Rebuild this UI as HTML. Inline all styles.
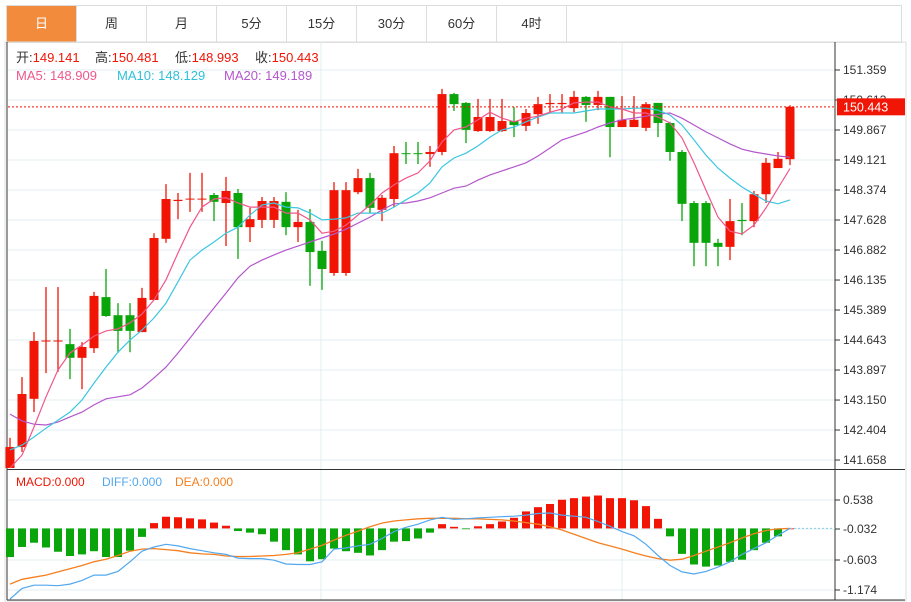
<!DOCTYPE html>
<html><head><meta charset="utf-8">
<style>
body{margin:0;background:#fff;width:911px;height:602px;overflow:hidden;font-family:"Liberation Sans","Noto Sans CJK SC",sans-serif;}
.tabs{position:absolute;left:6px;top:5px;height:36px;display:flex;border:1px solid #ddd;border-right:none}
.tab{width:70px;height:36px;line-height:36px;text-align:center;font-size:13px;color:#333;border-right:1px solid #ddd;box-sizing:border-box}
.tab.on{background:#f28b3c;color:#fff}
svg{position:absolute;left:0;top:0}
</style></head><body>
<div class="tabs">
<div class="tab on">日</div>
<div class="tab">周</div>
<div class="tab">月</div>
<div class="tab">5分</div>
<div class="tab">15分</div>
<div class="tab">30分</div>
<div class="tab">60分</div>
<div class="tab">4时</div>
<div class="tab" style="width:335px"></div>
</div>
<svg id="c" width="911" height="602"></svg>
<script>
const opens=[141.46,141.98,143.18,144.62,144.62,144.54,144.20,144.44,145.71,145.26,145.26,144.84,145.64,147.16,148.10,148.15,148.15,148.25,148.05,148.30,147.45,147.63,147.63,148.08,147.45,147.58,146.86,146.31,146.31,148.32,148.67,147.88,148.15,149.29,149.29,149.27,149.32,150.76,150.54,149.84,149.84,149.84,150.09,149.97,150.26,150.51,150.51,150.41,150.69,150.49,150.69,149.94,149.94,149.92,150.54,150.04,149.32,148.05,148.05,147.06,146.96,147.63,147.60,148.27,148.92,149.141];
const closes=[141.98,143.30,144.62,144.63,144.63,144.20,144.47,145.74,145.24,144.87,144.87,145.69,147.18,148.15,148.13,148.16,148.16,148.08,148.35,147.45,147.65,148.10,148.10,147.45,147.58,146.83,146.41,148.37,148.37,148.67,147.93,148.18,149.29,149.27,149.27,149.32,150.76,150.51,149.87,150.19,150.19,150.09,149.99,150.29,150.51,150.54,150.54,150.69,150.49,150.69,149.94,150.12,150.12,150.51,150.04,149.32,148.03,147.06,147.06,146.96,147.60,147.60,148.27,149.05,149.15,150.443];
const highs=[142.21,143.72,144.84,145.96,145.96,144.92,144.59,145.84,146.41,145.56,145.56,145.94,147.30,148.52,148.30,148.80,148.80,148.30,148.70,148.40,147.93,148.20,148.20,148.32,147.88,147.90,147.11,148.57,148.57,148.90,148.80,148.25,149.47,149.57,149.57,149.47,150.89,150.79,150.56,150.64,150.64,150.64,150.44,150.39,150.69,150.76,150.76,150.84,150.71,150.84,150.69,150.71,150.71,150.56,150.54,150.07,149.37,148.10,148.10,147.16,148.15,148.05,148.35,149.17,149.32,150.481];
const lows=[141.46,141.86,142.85,143.82,143.85,143.67,143.42,144.32,145.22,144.34,144.34,144.84,145.64,147.06,147.65,147.83,147.83,147.60,146.98,146.66,147.08,147.43,147.43,147.25,147.08,145.99,145.89,146.24,146.24,148.27,147.80,147.60,147.95,149.02,149.02,148.95,149.24,150.34,149.54,149.82,149.82,149.82,149.69,149.84,150.02,150.31,150.29,150.31,150.07,150.36,149.19,149.94,149.94,149.84,149.69,149.10,147.60,146.48,146.48,146.48,146.63,147.25,147.45,148.05,148.92,148.993];
const ma5=[141.46,141.78,142.48,143.23,143.90,144.32,144.52,144.74,144.87,144.92,145.07,145.29,145.64,146.14,146.81,147.45,147.95,148.15,148.18,148.05,147.95,147.95,147.95,147.80,147.80,147.63,147.30,147.35,147.50,147.75,148.00,148.30,148.50,148.67,148.80,149.10,149.57,149.87,149.94,150.12,150.31,150.16,150.07,150.16,150.21,150.31,150.39,150.54,150.56,150.56,150.44,150.39,150.29,150.29,150.19,150.04,149.67,149.05,148.37,147.70,147.35,147.28,147.50,147.93,148.42,148.909];
const ma10=[141.91,142.03,142.23,142.45,142.65,142.85,143.15,143.57,143.97,144.34,144.64,144.89,145.19,145.56,146.09,146.63,146.88,147.08,147.30,147.45,147.75,148.00,148.05,147.95,147.93,147.80,147.63,147.65,147.68,147.80,147.80,147.80,147.95,148.13,148.30,148.55,148.95,149.17,149.29,149.47,149.69,149.87,149.94,150.07,150.19,150.29,150.29,150.29,150.34,150.39,150.39,150.39,150.41,150.41,150.36,150.24,149.99,149.62,149.24,148.92,148.67,148.45,148.27,148.10,148.03,148.129];
const ma20=[142.80,142.63,142.55,142.53,142.60,142.73,142.85,143.03,143.18,143.23,143.28,143.45,143.70,143.97,144.32,144.69,145.07,145.44,145.81,146.19,146.48,146.63,146.76,146.88,146.98,147.08,147.18,147.28,147.40,147.55,147.70,147.88,148.03,148.05,148.10,148.18,148.30,148.42,148.47,148.62,148.75,148.85,148.95,149.05,149.22,149.42,149.62,149.72,149.82,149.94,150.04,150.12,150.16,150.21,150.26,150.29,150.16,149.99,149.82,149.67,149.52,149.39,149.32,149.27,149.22,149.189];
const macdHist=[-0.54,-0.35,-0.27,-0.36,-0.44,-0.52,-0.49,-0.43,-0.54,-0.54,-0.42,-0.16,0.10,0.22,0.21,0.19,0.17,0.11,0.05,-0.05,-0.08,-0.11,-0.25,-0.41,-0.49,-0.62,-0.58,-0.38,-0.43,-0.46,-0.51,-0.41,-0.25,-0.24,-0.19,-0.08,0.08,0.03,-0.01,0.04,0.08,0.13,0.20,0.32,0.40,0.46,0.54,0.57,0.60,0.62,0.57,0.57,0.53,0.42,0.18,-0.15,-0.48,-0.68,-0.72,-0.70,-0.63,-0.59,-0.41,-0.27,-0.15,0.00];
const diff=[-1.33,-1.13,-1.07,-1.07,-1.08,-1.05,-0.98,-0.88,-0.88,-0.81,-0.63,-0.43,-0.35,-0.30,-0.33,-0.38,-0.42,-0.46,-0.49,-0.56,-0.57,-0.57,-0.60,-0.67,-0.68,-0.68,-0.63,-0.39,-0.37,-0.33,-0.30,-0.19,-0.06,0.02,0.08,0.16,0.21,0.17,0.18,0.20,0.21,0.22,0.23,0.25,0.28,0.29,0.25,0.23,0.21,0.13,0.04,-0.06,-0.14,-0.30,-0.51,-0.70,-0.82,-0.86,-0.81,-0.73,-0.63,-0.49,-0.38,-0.27,-0.13,0.00];
const dea=[-1.05,-0.96,-0.92,-0.88,-0.82,-0.76,-0.70,-0.63,-0.58,-0.51,-0.43,-0.39,-0.38,-0.40,-0.42,-0.46,-0.48,-0.49,-0.52,-0.53,-0.53,-0.52,-0.51,-0.49,-0.46,-0.39,-0.32,-0.22,-0.13,-0.05,0.03,0.10,0.14,0.16,0.18,0.19,0.19,0.19,0.18,0.18,0.17,0.16,0.14,0.11,0.08,0.03,-0.03,-0.11,-0.19,-0.27,-0.33,-0.39,-0.46,-0.52,-0.57,-0.60,-0.58,-0.51,-0.43,-0.35,-0.27,-0.18,-0.10,-0.04,-0.01,0.00];
const priceTicks=[151.359,150.613,149.867,149.121,148.374,147.628,146.882,146.135,145.389,144.643,143.897,143.150,142.404,141.658];
const macdTicks=[0.538,-0.032,-0.603,-1.174];

const svg=document.getElementById('c');const NS='http://www.w3.org/2000/svg';
const RED='#f01505',GREEN='#0aa50a';
function X(i){return 10+12*i;}
function Y(p){return 70+(151.359-p)*30/0.7462;}
function M(v){return 528.4-v*30.3/0.571;}
function mk(tag,at,parent){const e=document.createElementNS(NS,tag);for(const k in at)e.setAttribute(k,at[k]);(parent||svg).appendChild(e);return e;}
// frames
let g=mk('g',{});
priceTicks.forEach(t=>{mk('line',{x1:8,x2:835,y1:Y(t),y2:Y(t),stroke:'#e3ecf2'},g);});
macdTicks.forEach(t=>{const y=M(t)-(t===-0.032?-1.7:0);});
[500,529,560,590].forEach(y=>mk('line',{x1:8,x2:835,y1:y,y2:y,stroke:'#e3ecf2'},g));
[321,622].forEach(x=>mk('line',{x1:x,x2:x,y1:42,y2:600,stroke:'#e3ecf2'},g));
mk('rect',{x:5,y:42,width:901,height:559,fill:'none',stroke:'#ddd'});
let fr=mk('g',{});
mk('line',{x1:7,x2:7,y1:42,y2:600,stroke:'#333'},fr);
mk('line',{x1:835,x2:835,y1:42,y2:600,stroke:'#333'},fr);
mk('line',{x1:7,x2:905,y1:469.5,y2:469.5,stroke:'#333'},fr);
mk('line',{x1:7,x2:905,y1:600,y2:600,stroke:'#333'},fr);
// y axis labels
let ya=mk('g',{});
priceTicks.forEach(t=>{const y=Y(t);mk('line',{x1:835,x2:840,y1:y,y2:y,stroke:'#333'},ya);const tx=mk('text',{x:843,y:y+4,'font-size':12,fill:'#333'},ya);tx.textContent=t.toFixed(3);});
let ma=mk('g',{});
const mty=[500,529,560,590];
macdTicks.forEach((t,k)=>{const y=mty[k];mk('line',{x1:835,x2:840,y1:y,y2:y,stroke:'#333'},ma);const tx=mk('text',{x:843,y:y+4,'font-size':12,fill:'#333'},ma);tx.textContent=t.toFixed(3);});
// candles
let cg=mk('g',{});
opens.forEach((o,i)=>{const c=closes[i],up=c>=o,col=up?RED:GREEN,x=X(i);
 const r=mk('g',{},cg);
 
 
 mk('line',{x1:x,x2:x,y1:Y(highs[i]),y2:Y(lows[i]),stroke:col,'stroke-width':1.3},r);
 const t=Math.min(Y(o),Y(c)),h=Math.max(1,Math.abs(Y(o)-Y(c)));
 mk('rect',{x:x-4.5,y:t,width:9,height:h,fill:col},r);});
// MA lines
function line(arr,f,col,name,w){const d=arr.map((v,i)=>(i?'L':'M')+X(i)+' '+f(v).toFixed(1)).join('');const p=mk('path',{d:d,fill:'none',stroke:col,'stroke-width':w||1.2});}
line(ma20,Y,'#b457cc','ma20-line');line(ma10,Y,'#3cc6e0','ma10-line');line(ma5,Y,'#f0578a','ma5-line');
// last price
const lp=closes[closes.length-1];
mk('line',{x1:8,x2:835,y1:Y(lp),y2:Y(lp),stroke:RED,'stroke-dasharray':'2,2'});
let lb=mk('g',{});
mk('rect',{x:837,y:Y(lp)-8.5,width:68,height:17,fill:RED},lb);
let lt=mk('text',{x:843,y:Y(lp)+4.5,'font-size':12.5,fill:'#fff'},lb);lt.textContent=lp.toFixed(3);
// MACD
let hg=mk('g',{});
macdHist.forEach((v,i)=>{const y0=M(0),y1=M(v);const b=mk('rect',{x:X(i)-4,y:Math.min(y0,y1),width:8,height:Math.max(0.8,Math.abs(y1-y0)),fill:v>=0?RED:GREEN},hg);
 
 });
line(dea,M,'#f57f20','dea-line',1.3);line(diff,M,'#52a8ef','diff-line',1.2);
mk('line',{x1:X(65),x2:835,y1:M(0),y2:M(0),stroke:'#8ccde8','stroke-dasharray':'2,2'});
// legends
function txt(x,y,s,col,name,size){const t=mk('text',{x:x,y:y,'font-size':size||12.5,fill:col});t.textContent=s;return t;}
const L1=[['开:','149.141',16],['高:','150.481',95],['低:','148.993',175],['收:','150.443',255]];
L1.forEach(a=>{const t=mk('text',{x:a[2],y:62,'font-size':13,fill:'#333'});t.innerHTML=a[0]+'<tspan fill="#f01505">'+a[1]+'</tspan>';});
txt(16,80,'MA5: 148.909','#f0578a','ma5-legend',13);
txt(117,80,'MA10: 148.129','#2ec0d8','ma10-legend',13);
txt(224,80,'MA20: 149.189','#b457cc','ma20-legend',13);
txt(16,486,'MACD:0.000','#f01505','macd-legend',12);
txt(102,486,'DIFF:0.000','#52a8ef','diff-legend',12);
txt(175,486,'DEA:0.000','#f57f20','dea-legend',12);
</script>
</body></html>
